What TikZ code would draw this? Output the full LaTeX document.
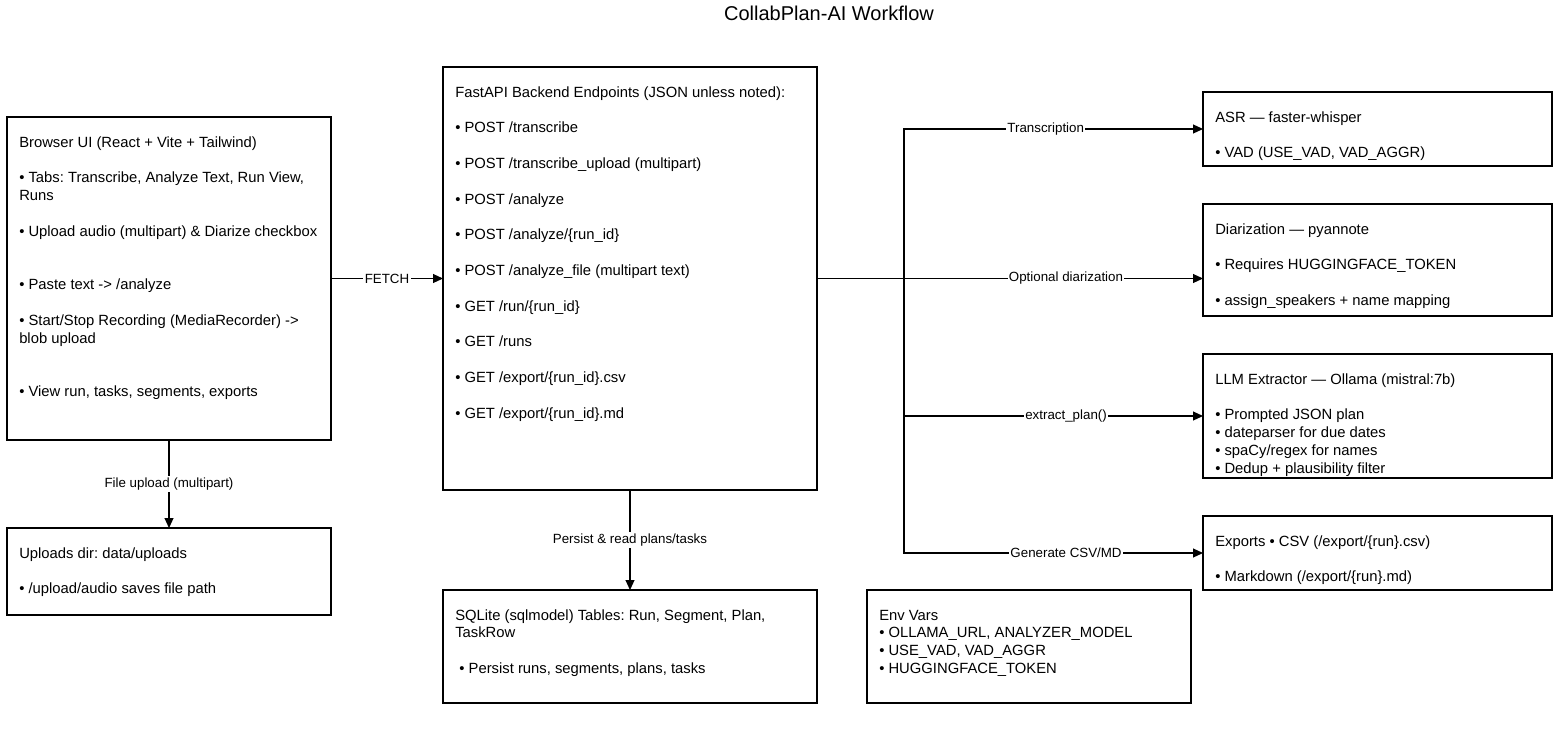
\documentclass[tikz,border=0pt]{standalone}
\usepackage{fontspec}
\setmainfont{Liberation Sans}
\usetikzlibrary{arrows.meta,calc}
\frenchspacing
\begin{document}
\begin{tikzpicture}[x=0.75pt,y=-0.75pt,
  box/.style={draw, line width=0.8pt, rectangle, inner sep=0pt, outer sep=0pt},
  txt/.style={anchor=base west, inner sep=0pt, font=\fontsize{11.1}{13}\selectfont},
  lbl/.style={fill=white, inner sep=1pt, font=\fontsize{10}{12}\selectfont},
  arr/.style={line width=0.8pt, -{Triangle[length=7.5pt,width=6.75pt]}},
  ttl/.style={anchor=base, inner sep=0pt, font=\fontsize{15}{18}\selectfont}]
\useasboundingbox (0,0) rectangle (1563,728);

\node[ttl] (title) at (829,20) {CollabPlan-AI Workflow};

% boxes
\node[box, minimum width=243pt, minimum height=242.25pt] (browser) at (169,278.5) {};
\node[box, minimum width=280.5pt, minimum height=317.25pt] (api) at (630,278.5) {};
\node[box, minimum width=243pt, minimum height=65.25pt] (uploads) at (169,571.5) {};
\node[box, minimum width=280.5pt, minimum height=84.75pt] (sqlite) at (630,646.5) {};
\node[box, minimum width=243pt, minimum height=84.75pt] (env) at (1029,646.5) {};
\node[box, minimum width=261.75pt, minimum height=55.5pt] (asr) at (1377.5,129) {};
\node[box, minimum width=261.75pt, minimum height=84pt] (diar) at (1377.5,260) {};
\node[box, minimum width=261.75pt, minimum height=93pt] (llm) at (1377.5,416) {};
\node[box, minimum width=261.75pt, minimum height=55.5pt] (exports) at (1377.5,553) {};

% texts
\foreach \ii/\tx [count=\n] in {
  0/{Browser UI (React + Vite + Tailwind)},
  2/{• Tabs: Transcribe, Analyze Text, Run View,},
  3/{Runs},
  5/{• Upload audio (multipart) \& Diarize checkbox},
  8/{• Paste text -> /analyze},
  10/{• Start/Stop Recording (MediaRecorder) ->},
  11/{blob upload},
  14/{• View run, tasks, segments, exports}}
  \node[txt] (bt\n) at ([shift={(12,{30+17.85*\ii})}]browser.north west) {\tx};

\foreach \ii/\tx [count=\n] in {
  0/{FastAPI Backend Endpoints (JSON unless noted):},
  2/{• POST /transcribe},
  4/{• POST /transcribe\_upload (multipart)},
  6/{• POST /analyze},
  8/{• POST /analyze/\{run\_id\}},
  10/{• POST /analyze\_file (multipart text)},
  12/{• GET /run/\{run\_id\}},
  14/{• GET /runs},
  16/{• GET /export/\{run\_id\}.csv},
  18/{• GET /export/\{run\_id\}.md}}
  \node[txt] (at\n) at ([shift={(12,{30+17.85*\ii})}]api.north west) {\tx};

\foreach \ii/\tx [count=\n] in {
  0/{Uploads dir: data/uploads},
  2/{• /upload/audio saves file path}}
  \node[txt] (ut\n) at ([shift={(12,{30+17.85*\ii})}]uploads.north west) {\tx};

\foreach \ii/\tx [count=\n] in {
  0/{SQLite (sqlmodel) Tables: Run, Segment, Plan,},
  1/{TaskRow},
  3/{\ • Persist runs, segments, plans, tasks}}
  \node[txt] (st\n) at ([shift={(12,{30+17.85*\ii})}]sqlite.north west) {\tx};

\foreach \ii/\tx [count=\n] in {
  0/{Env Vars},
  1/{• OLLAMA\_URL, ANALYZER\_MODEL},
  2/{• USE\_VAD, VAD\_AGGR},
  3/{• HUGGINGFACE\_TOKEN}}
  \node[txt] (et\n) at ([shift={(12,{30+17.85*\ii})}]env.north west) {\tx};

\foreach \ii/\tx [count=\n] in {
  0/{ASR — faster-whisper},
  2/{• VAD (USE\_VAD, VAD\_AGGR)}}
  \node[txt] (rt\n) at ([shift={(12,{30+17.85*\ii})}]asr.north west) {\tx};

\foreach \ii/\tx [count=\n] in {
  0/{Diarization — pyannote},
  2/{• Requires HUGGINGFACE\_TOKEN},
  4/{• assign\_speakers + name mapping}}
  \node[txt] (dt\n) at ([shift={(12,{30+17.85*\ii})}]diar.north west) {\tx};

\foreach \ii/\tx [count=\n] in {
  0/{LLM Extractor — Ollama (mistral:7b)},
  2/{• Prompted JSON plan},
  3/{• dateparser for due dates},
  4/{• spaCy/regex for names},
  5/{• Dedup + plausibility filter}}
  \node[txt] (lt\n) at ([shift={(12,{30+17.85*\ii})}]llm.north west) {\tx};

\foreach \ii/\tx [count=\n] in {
  0/{Exports • CSV (/export/\{run\}.csv)},
  2/{• Markdown (/export/\{run\}.md)}}
  \node[txt] (xt\n) at ([shift={(12,{30+17.85*\ii})}]exports.north west) {\tx};

% connectors
\draw[arr] (browser.east) -- node[lbl] {FETCH} (api.west);
\draw[arr] (browser.south) -- node[lbl] {File upload (multipart)} (uploads.north);
\draw[arr] (api.south) -- node[lbl] {Persist \& read plans/tasks} (sqlite.north);

\coordinate (j) at ([shift={(87,0)}]api.east);
\draw[arr] (api.east) -- (j) |- node[lbl, pos=0.737] {Transcription} (asr.west);
\draw[arr] (api.east) -- node[lbl, pos=0.645] {Optional diarization} (api.east -| diar.west);
\draw[arr] (api.east) -- (j) |- node[lbl, pos=0.771] {extract\_plan()} (llm.west);
\draw[arr] (api.east) -- (j) |- node[lbl, pos=0.771] {Generate CSV/MD} (exports.west);
\end{tikzpicture}
\end{document}
